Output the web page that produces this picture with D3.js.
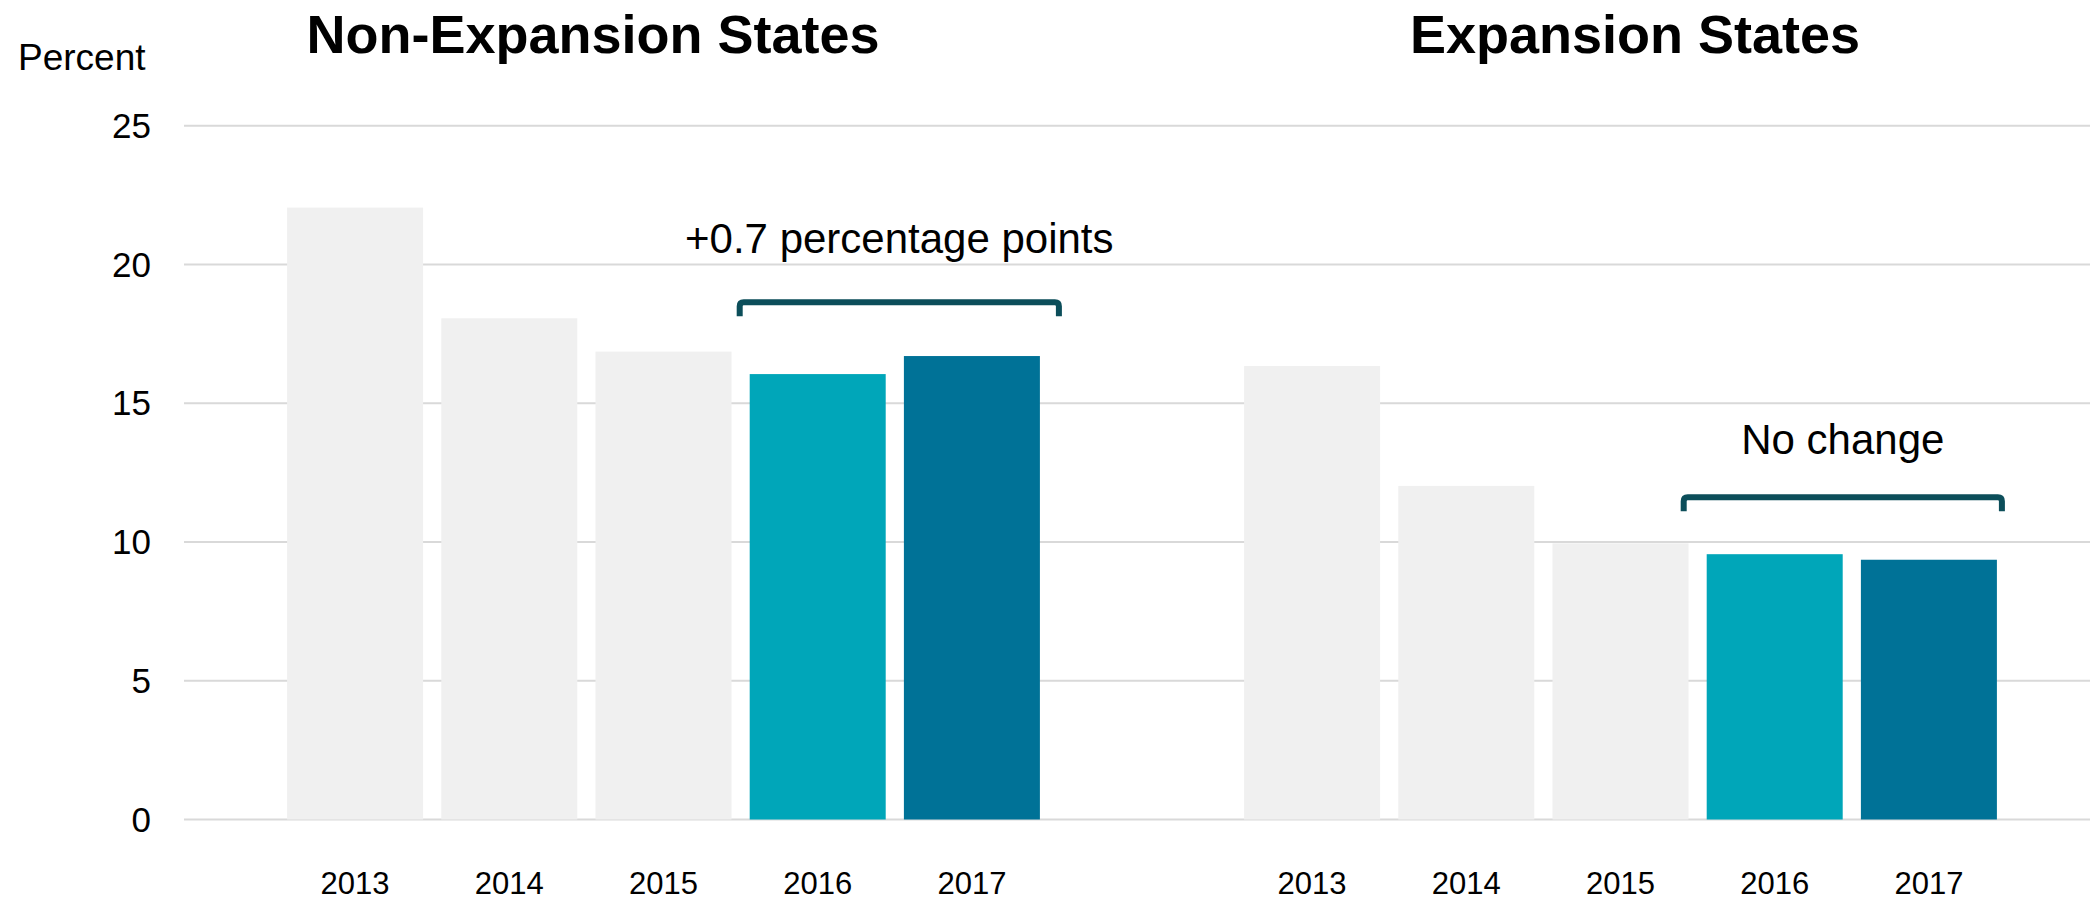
<!DOCTYPE html>
<html>
<head>
<meta charset="utf-8">
<script src="https://cdn.jsdelivr.net/npm/d3@7"></script>
<style>
  body { margin: 0; background: #ffffff; }
  svg { display: block; font-family: "Liberation Sans", Arial, sans-serif; }
  .title { font-weight: bold; font-size: 54px; fill: #000; }
  .tick-label { font-size: 35px; fill: #000; }
  .year-label { font-size: 31px; fill: #000; }
  .note { font-size: 42px; fill: #000; }
</style>
</head>
<body>
<div id="container-1"></div>
<script>
  let years = ["2013", "2014", "2015", "2016", "2017"];
  let panels = ["Non-Expansion States", "Expansion States"];
  let nonExpansion = [22.05, 18.06, 16.86, 16.05, 16.7];
  let expansion = [16.34, 12.02, 9.95, 9.56, 9.36];
  let yTicks = [0, 5, 10, 15, 20, 25];
  let notes = ["+0.7 percentage points", "No change"];
  let bracketLevel = [18.64, 11.61];  // y value of bracket line
  let noteLevel = [20.4, 13.17];       // y value of note baseline

  const WIDTH = 2090;
  const HEIGHT = 902;
  const BAR_COLORS = ["#f0f0f0", "#f0f0f0", "#f0f0f0", "#00a6b9", "#007297"];
  const BRACKET_COLOR = "#0c4e5a";

  window.onload = function() {
    let svg = d3.select("#container-1")
      .append("svg")
      .attr("width", WIDTH)
      .attr("height", HEIGHT);

    let y = d3.scaleLinear().domain([0, 25]).range([819.5, 125.7]);

    // panel settings: band range, title x, bracket pixel padding
    let layout = [
      { values: nonExpansion, range: [278, 1049], titleX: 593, padL: 10, padR: 19 },
      { values: expansion, range: [1235, 2006], titleX: 1635, padL: 23, padR: 5 }
    ];

    setGrid(svg, y);
    setAxisLabels(svg, y);

    layout.forEach(function(p, i) {
      let x = d3.scaleBand()
        .domain(years)
        .range(p.range)
        .paddingInner(0.118)
        .paddingOuter(0.059);
      setBars(svg, x, y, p.values);
      setYears(svg, x);
      setBracket(svg, x, y, p, i);

      svg.append("text")
        .attr("class", "title")
        .attr("x", p.titleX)
        .attr("y", 53)
        .attr("text-anchor", "middle")
        .text(panels[i]);
    });
  };

  function setGrid(svg, y) {
    svg.append("g")
      .selectAll("line")
      .data(yTicks)
      .enter()
      .append("line")
      .attr("x1", 184)
      .attr("x2", WIDTH)
      .attr("y1", function(d) { return y(d); })
      .attr("y2", function(d) { return y(d); })
      .attr("stroke", "#d9d9d9")
      .attr("stroke-width", 2);
  }

  function setAxisLabels(svg, y) {
    svg.append("g")
      .selectAll("text")
      .data(yTicks)
      .enter()
      .append("text")
      .attr("class", "tick-label")
      .attr("x", 151)
      .attr("y", function(d) { return y(d); })
      .attr("dy", "0.35em")
      .attr("text-anchor", "end")
      .text(function(d) { return d; });

    svg.append("text")
      .attr("class", "tick-label")
      .attr("x", 18)
      .attr("y", 70)
      .style("font-size", "37px")
      .text("Percent");
  }

  function setBars(svg, x, y, values) {
    svg.append("g")
      .selectAll("rect")
      .data(values)
      .enter()
      .append("rect")
      .attr("x", function(d, i) { return x(years[i]); })
      .attr("width", x.bandwidth())
      .attr("y", function(d) { return y(d); })
      .attr("height", function(d) { return y(0) - y(d); })
      .attr("fill", function(d, i) { return BAR_COLORS[i]; });
  }

  function setYears(svg, x) {
    svg.append("g")
      .selectAll("text")
      .data(years)
      .enter()
      .append("text")
      .attr("class", "year-label")
      .attr("x", function(d) { return x(d) + x.bandwidth() / 2; })
      .attr("y", 894)
      .attr("text-anchor", "middle")
      .text(function(d) { return d; });
  }

  function setBracket(svg, x, y, p, i) {
    let x0 = x("2016") - p.padL;
    let x1 = x("2017") + x.bandwidth() + p.padR;
    let yb = y(bracketLevel[i]);
    let r = 4;

    let path = d3.path();
    path.moveTo(x0, yb + 14);
    path.lineTo(x0, yb + r);
    path.quadraticCurveTo(x0, yb, x0 + r, yb);
    path.lineTo(x1 - r, yb);
    path.quadraticCurveTo(x1, yb, x1, yb + r);
    path.lineTo(x1, yb + 14);

    svg.append("path")
      .attr("d", path.toString())
      .attr("fill", "none")
      .attr("stroke", BRACKET_COLOR)
      .attr("stroke-width", 6);

    svg.append("text")
      .attr("class", "note")
      .attr("x", (x0 + x1) / 2)
      .attr("y", y(noteLevel[i]))
      .attr("text-anchor", "middle")
      .text(notes[i]);
  }
</script>
</body>
</html>
